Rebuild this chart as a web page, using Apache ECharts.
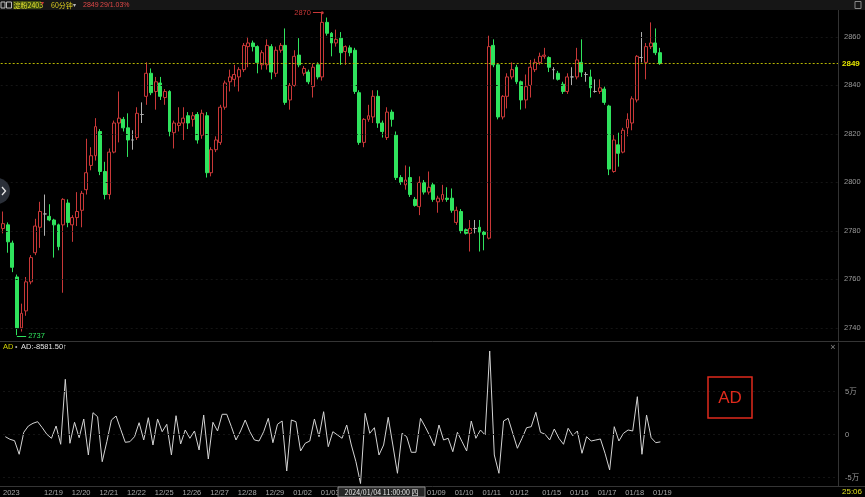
<!DOCTYPE html>
<html><head><meta charset="utf-8">
<script src="https://cdn.jsdelivr.net/npm/echarts@6/dist/echarts.min.js"></script>
<style>html,body{margin:0;padding:0;background:#000;}#c{width:865px;height:497px;}</style>
</head><body><div id="c"></div>
<script>
// ---- data (60-minute bars) ----
// each bar: [open, close, low, high]
const candleOHLC = [
[2781,2783,2779,2788],[2782.5,2775.5,2771,2783.5],[2775,2765,2763,2776],[2761,2740,2737,2762],[2740,2746,2738.5,2750],
[2747,2759,2745,2761],[2759,2769,2758,2770],[2771,2782,2770,2785],[2781.5,2788,2773,2792],[2787,2787,2778,2795],
[2786,2784.5,2784,2791],[2784.5,2782.5,2769,2785],[2782.5,2773.5,2772,2783],[2782.5,2793,2754.5,2793.5],[2791.5,2783.5,2781.5,2793],
[2782.5,2785.5,2775.5,2786.5],[2785.5,2788,2782,2796],[2788.5,2795.5,2781.5,2796.5],[2797,2804,2795,2818],[2807,2811,2805,2814.5],
[2811,2823,2809,2826.5],[2821,2804.5,2803,2822],[2804.5,2795,2793,2808.5],[2795,2812.5,2793,2814],[2812.5,2824.5,2812,2825.5],
[2824.5,2826.5,2816.5,2837.5],[2826,2822.5,2821,2827],[2822.5,2817.5,2810.5,2828.5],[2817.5,2817.5,2813.5,2821.5],[2818.5,2828.5,2817.5,2831],
[2828,2828,2824.5,2833],[2835.5,2845,2832,2849.5],[2845,2837,2836,2847],[2837.5,2841.5,2830,2843.5],[2841,2835.5,2834,2843.5],
[2835,2837.5,2832,2838.5],[2837.5,2821,2819,2838],[2820.5,2824.5,2814,2825.5],[2823.5,2824.5,2821,2831],[2824.5,2826.5,2817.5,2831],
[2827.5,2824.5,2822,2829],[2826,2827.5,2823,2829],[2828,2817.5,2816,2829],[2819.5,2828.5,2818,2830],[2827.5,2804,2802,2829],
[2804,2813.5,2802.5,2814.5],[2813.5,2817.5,2812.5,2819],[2816.5,2831,2815.5,2832],[2831,2841,2830,2842],[2841.5,2843.5,2837.5,2846.5],
[2842.5,2844.5,2839.5,2848.5],[2843.5,2846.5,2837.5,2847.5],[2846.5,2856.5,2845.5,2857.5],[2856,2857.5,2847.5,2860],[2857.5,2856,2854,2858.5],
[2856,2849.5,2845,2856.5],[2848.5,2853.5,2846.5,2854.5],[2848.5,2856.5,2846.5,2859],[2856,2845.5,2842.5,2857],[2845,2854.5,2843.5,2856],
[2854.5,2856.5,2853.5,2857.5],[2856.5,2833,2832,2863.5],[2834,2840,2830,2841],[2840,2852,2839.5,2854.5],[2852.5,2848.5,2847.5,2859.5],
[2845,2847,2844,2848],[2845.5,2841.5,2840.5,2846.5],[2839.5,2847.5,2835,2849],[2848.5,2843.5,2842.5,2849.5],[2843.5,2866,2842,2870],
[2866,2861.5,2860.5,2868],[2861.5,2857.5,2852,2862],[2857.5,2859,2856,2863],[2859.5,2853.5,2848.5,2862],[2854,2856,2848.5,2856.5],
[2855.5,2853.5,2852,2856.5],[2854.5,2837.5,2836.5,2855.5],[2837,2816.5,2815.5,2838],[2816.5,2826,2814.5,2826.5],[2826,2827.5,2825,2832],
[2827,2835.5,2824.5,2838],[2835.5,2824.5,2822.5,2838],[2824.5,2821,2818.5,2825.5],[2818.5,2829,2817.5,2831],[2829,2826,2823,2830],
[2819.5,2802,2801,2821],[2802,2800,2799,2803],[2799,2801,2797,2807],[2802,2795,2794,2806.5],[2793,2790.5,2790,2794],
[2790,2800,2786.5,2802.5],[2800,2796,2795,2801],[2796,2798,2795,2804.5],[2799,2793,2792,2800],[2792,2793.5,2787.5,2794.5],
[2793,2795,2792,2799],[2793.5,2793,2792,2798],[2793.5,2788.5,2787.5,2797.5],[2783.5,2788.5,2782.5,2790],[2788,2780,2779,2789],
[2780.5,2779,2778.5,2781],[2779,2781,2771.5,2784.5],[2781,2781,2779,2784.5],[2781.5,2779.5,2771.5,2784.5],[2779.5,2778.5,2772,2780],
[2777,2856,2776.5,2860.5],[2856.5,2848.5,2847.5,2859],[2848.5,2827,2826,2849],[2827,2835.5,2826,2836],[2835.5,2843.5,2830.5,2845],
[2843.5,2846.5,2842.5,2849.5],[2847.5,2841.5,2840.5,2848.5],[2841.5,2834,2830,2842],[2834,2839.5,2830.5,2844.5],[2840,2847.5,2835,2850.5],
[2846.5,2849.5,2845.5,2851],[2849.5,2852,2848.5,2853.5],[2852,2852.5,2851,2855.5],[2851.5,2847.5,2845.5,2852],[2846.5,2846.5,2842.5,2847.5],
[2845,2842.5,2842,2846],[2840.5,2837.5,2836.5,2841.5],[2837.5,2843.5,2836.5,2845],[2843.5,2843.5,2840,2847.5],[2843.5,2850.5,2842.5,2855.5],
[2849.5,2845.5,2843.5,2859],[2844.5,2844.5,2841.5,2845.5],[2843.5,2839,2835,2846.5],[2837.5,2837.5,2837,2842.5],[2837.5,2839,2836.5,2842.5],
[2838.5,2833,2832,2839.5],[2831.5,2805.5,2803,2832],[2804.5,2817.5,2804,2819.5],[2815.5,2812,2806.5,2820.5],[2812.5,2821.5,2812,2822.5],
[2822.5,2826,2819,2828.5],[2824.5,2834.5,2821.5,2835.5],[2834,2852,2833,2852.5],[2851.5,2851.5,2849.5,2862],[2849.5,2856,2842.5,2857.5],
[2856,2857.5,2855,2866],[2857.5,2853.5,2852.5,2863.5],[2853.5,2849,2848.5,2855.5]
];
const adValues = [
-2560,-5580,-7210,-23030,2560,9890,13030,14890,7910,230,
-4420,9890,-11400,64200,-10230,14190,-3720,18030,-23840,25350,
20700,-31630,-8370,16860,21520,6050,-9070,-8370,-2560,13720,
-6400,19540,-12210,18030,3260,11860,-23840,21860,-11050,5230,
-4420,4070,-18030,22680,-28490,14190,4070,23490,23490,9070,
-6400,4070,16860,3260,-6400,-7560,3260,18840,-9540,11860,
15700,-42450,16860,14890,-19190,-10230,-7560,18030,-2560,26520,
-14190,3260,-580,-4420,11050,-12210,-31630,-57000,24660,1400,
7910,-23840,-12210,20000,-12210,-45120,1400,-2560,-20700,-20700,
18840,9070,-1400,-13370,11050,-6400,-4420,-20000,2560,-8370,
-19190,15700,-4420,5230,-580,97110,-23840,-45120,15700,18840,
1400,-16050,-4420,7910,9070,25820,2560,230,-6400,6400,
-4420,-11400,7210,-1400,4070,-21860,-2560,-7560,-6400,-5230,
-21860,-41290,9070,-7560,1400,5230,4070,43960,-23030,22680,
-3720,-9540,-8581.5
];
const priceTicks = [2860, 2840, 2820, 2800, 2780, 2760, 2740];
const adTicks = [50000, 0, -50000];
const adTickText = ['5万', '0', '-5万'];
const dateTickIdx  = [0, 10, 16, 22, 28, 34, 40, 46, 52, 58, 64, 70, 93, 99, 105, 111, 118, 124, 130, 136, 142];
const dateTickText = ['2023','12/19','12/20','12/21','12/22','12/25','12/26','12/27','12/28','12/29','01/02','01/03',
                      '01/09','01/10','01/11','01/12','01/15','01/16','01/17','01/18','01/19'];
const lastPrice = 2849;
const maxHigh = 2870, minLow = 2737;
const adLast = '-8581.50';

// ---- chart ----
const N_SLOTS = 181;
const cats = Array.from({length: N_SLOTS}, (_, i) => String(i));
const tickMap = {};
dateTickIdx.forEach((k, j) => { tickMap[k] = dateTickText[j]; });
const maxIdx = candleOHLC.findIndex(d => d[3] === maxHigh);
const minIdx = candleOHLC.findIndex(d => d[2] === minLow);

const RED = '#c93838', GREEN = '#2fe35d', GRAY = '#9a9a9a';
const FONT = '"Liberation Sans", "Noto Sans CJK SC", sans-serif';
const CJK = '"Noto Sans CJK SC", sans-serif';

const gridLineStyle = {color: '#151515', type: [2, 3], width: 1};

const chart = echarts.init(document.getElementById('c'), null, {renderer: 'canvas'});
chart.setOption({
  backgroundColor: '#000',
  animation: false,
  textStyle: {fontFamily: FONT},
  grid: [
    {left: 0.7, right: 27, top: 10, height: 331},
    {left: 0.7, right: 27, top: 343, height: 143}
  ],
  xAxis: [
    {type: 'category', gridIndex: 0, data: cats, boundaryGap: true,
     axisLine: {show: false}, axisTick: {show: false}, axisLabel: {show: false}, splitLine: {show: false}},
    {type: 'category', gridIndex: 1, data: cats, boundaryGap: true,
     axisLine: {show: false}, axisTick: {show: false}, splitLine: {show: false},
     axisLabel: {
       show: true, color: '#a8a8a8', fontSize: 7.5, margin: 3, fontFamily: FONT,
       interval: (idx) => tickMap[idx] !== undefined,
       formatter: (v, idx) => {
         const t = tickMap[idx];
         if (t === undefined) return '';
         return idx === 0 ? '{y|' + t + '}' : '{d|' + t + '}';
       },
       rich: {
         y: {padding: [0, 0, 0, 12], fontSize: 7.5, color: '#a8a8a8'},
         d: {padding: [0, 0, 0, 4], fontSize: 7.5, color: '#a8a8a8'}
       }
     }}
  ],
  yAxis: [
    {type: 'value', gridIndex: 0, position: 'right', min: 2734.6, max: 2871.1, scale: true,
     axisLine: {show: true, lineStyle: {color: '#333'}}, axisTick: {show: false},
     splitLine: {show: false},
     axisLabel: {show: true, customValues: priceTicks, color: GRAY, fontSize: 7.5, margin: 6,
       formatter: (v) => String(v)}},
    {type: 'value', gridIndex: 1, position: 'right', min: -59900, max: 106400,
     axisLine: {show: true, lineStyle: {color: '#333'}}, axisTick: {show: false},
     splitLine: {show: false},
     axisLabel: {show: true, customValues: adTicks, color: GRAY, fontSize: 7.5, margin: 7,
       formatter: (v) => { const i = adTicks.indexOf(v); return i >= 0 ? adTickText[i] : ''; }}}
  ],
  series: [
    {
      type: 'candlestick', xAxisIndex: 0, yAxisIndex: 0,
      data: candleOHLC.map(d => [d[0], d[1], d[2], d[3]]),
      barWidth: 3.4,
      itemStyle: {
        color: '#000', color0: GREEN,
        borderColor: RED, borderColor0: GREEN, borderColorDoji: '#b0b0b0',
        borderWidth: 1
      },
      markLine: {
        silent: true, symbol: ['none', 'none'], animation: false,
        data: [
          ...priceTicks.map(v => ({yAxis: v, lineStyle: gridLineStyle, label: {show: false}})),
          {yAxis: lastPrice, lineStyle: {color: '#b5b500', type: [2, 2], width: 1},
           label: {show: true, position: 'end', formatter: String(lastPrice), color: '#e6e600',
                   fontSize: 8, distance: 4, fontWeight: 'bold'}},
          [
            {coord: [cats[maxIdx - 2], maxHigh], symbol: 'none',
             label: {show: true, position: 'start', formatter: String(maxHigh), color: RED, fontSize: 7.5, distance: 2},
             lineStyle: {color: RED, type: 'solid', width: 1}},
            {coord: [cats[maxIdx], maxHigh], symbol: 'circle', symbolSize: 3}
          ],
          [
            {coord: [cats[minIdx], minLow - 0.5], symbol: 'none',
             label: {show: true, position: 'end', formatter: String(minLow), color: GREEN, fontSize: 7.5, distance: 2},
             lineStyle: {color: GREEN, type: 'solid', width: 1}},
            {coord: [cats[minIdx + 2], minLow - 0.5], symbol: 'none'}
          ]
        ]
      }
    },
    {
      type: 'line', xAxisIndex: 1, yAxisIndex: 1, data: adValues,
      symbol: 'none', lineStyle: {color: '#d4d4d4', width: 1},
      markLine: {
        silent: true, symbol: ['none', 'none'], animation: false,
        data: adTicks.map(v => ({yAxis: v, lineStyle: gridLineStyle, label: {show: false}}))
      }
    }
  ],
  graphic: [
    // header strip
    {type: 'rect', shape: {x: 0, y: 0, width: 865, height: 10}, style: {fill: '#161616'}, z: 10},
    {type: 'rect', shape: {x: 1, y: 2, width: 4, height: 6}, style: {fill: 'none', stroke: '#bbb', lineWidth: 1}, z: 11},
    {type: 'rect', shape: {x: 6.5, y: 2, width: 5, height: 6}, style: {fill: 'none', stroke: '#bbb', lineWidth: 1}, z: 11},
    {type: 'rect', shape: {x: 13, y: 1, width: 28, height: 8}, style: {fill: '#3d4a10'}, z: 11},
    {type: 'text', x: 13.5, y: 5, style: {text: '淀粉2403', fill: '#e0e030', fontSize: 7, fontFamily: CJK, textVerticalAlign: 'middle'}, z: 12},
    {type: 'text', x: 41, y: 3.5, style: {text: '▾', fill: RED, fontSize: 6, textVerticalAlign: 'middle'}, z: 12},
    {type: 'text', x: 51, y: 5, style: {text: '60分钟', fill: '#e0d020', fontSize: 7, fontFamily: CJK, textVerticalAlign: 'middle'}, z: 12},
    {type: 'text', x: 73, y: 5, style: {text: '▾', fill: '#bbb', fontSize: 6, textVerticalAlign: 'middle'}, z: 12},
    {type: 'text', x: 83, y: 5, style: {text: '2849', fill: '#e04848', fontSize: 7, fontFamily: FONT, textVerticalAlign: 'middle'}, z: 12},
    {type: 'text', x: 100, y: 5, style: {text: '29/1.03%', fill: '#e04848', fontSize: 7, fontFamily: FONT, textVerticalAlign: 'middle'}, z: 12},
    {type: 'rect', shape: {x: 855, y: 1.5, width: 6, height: 7}, style: {fill: 'none', stroke: '#888', lineWidth: 1}, z: 11},
    // left side round button
    {type: 'circle', shape: {cx: -3, cy: 191, r: 13}, style: {fill: '#2b3039'}, z: 10},
    {type: 'polyline', shape: {points: [[2, 187], [5.5, 191], [2, 195]]}, style: {stroke: '#e8e8e8', lineWidth: 1.3, fill: 'none'}, z: 11},
    // panel separators
    {type: 'line', shape: {x1: 0, y1: 341.5, x2: 865, y2: 341.5}, style: {stroke: '#353535', lineWidth: 1}, z: 5},
    {type: 'line', shape: {x1: 0, y1: 486.5, x2: 865, y2: 486.5}, style: {stroke: '#353535', lineWidth: 1}, z: 5},
    // AD header
    {type: 'text', x: 3, y: 347, style: {text: 'AD', fill: '#d2d200', fontSize: 7.5, fontFamily: FONT, textVerticalAlign: 'middle'}, z: 12},
    {type: 'text', x: 15, y: 347, style: {text: '•', fill: '#aaa', fontSize: 7, fontFamily: FONT, textVerticalAlign: 'middle'}, z: 12},
    {type: 'text', x: 21, y: 347, style: {text: 'AD:' + adLast + '↑', fill: '#e2e2e2', fontSize: 7.5, fontFamily: FONT, textVerticalAlign: 'middle'}, z: 12},
    {type: 'text', x: 833, y: 348, style: {text: '×', fill: '#888', fontSize: 9, fontFamily: FONT, textAlign: 'center', textVerticalAlign: 'middle'}, z: 12},
    // red AD box annotation
    {type: 'rect', shape: {x: 708, y: 377, width: 44, height: 41}, style: {fill: 'none', stroke: '#e02a1c', lineWidth: 1.5}, z: 12},
    {type: 'text', x: 730, y: 398, style: {text: 'AD', fill: '#e02a1c', fontSize: 17, fontFamily: FONT, textAlign: 'center', textVerticalAlign: 'middle'}, z: 12},
    // crosshair date box on time axis
    {type: 'rect', shape: {x: 338, y: 487, width: 87, height: 10}, style: {fill: '#262626', stroke: '#8a8a8a', lineWidth: 1}, z: 12},
    {type: 'text', x: 381.5, y: 492, style: {text: '2024/01/04 11:00:00 四', fill: '#e6e6e6', fontSize: 7, fontFamily: CJK, textAlign: 'center', textVerticalAlign: 'middle'}, z: 13},
    // clock at bottom right
    {type: 'text', x: 852, y: 492, style: {text: '25:06', fill: '#e0e020', fontSize: 8, fontFamily: FONT, textAlign: 'center', textVerticalAlign: 'middle'}, z: 12}
  ]
});
</script>
</body></html>
